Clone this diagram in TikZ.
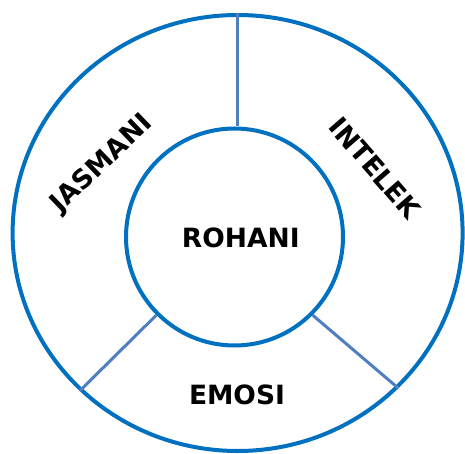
\documentclass[tikz,border=0pt]{standalone}
\usepackage{fontspec}
\setmainfont{DejaVu Sans}
\usetikzlibrary{shapes.geometric}
\definecolor{Ring}{HTML}{0070C0}
\definecolor{Spoke}{HTML}{4F7FBF}

\begin{document}
\begin{tikzpicture}[x=1pt,y=-1pt,
    ring/.style={draw=Ring,line width=4pt,inner sep=0pt},
    spoke/.style={draw=Spoke,line width=3pt},
    word/.style={font=\fontsize{26.5}{30}\selectfont\bfseries,inner sep=0pt}]
    \useasboundingbox (0,0) rectangle (465,454);
    \node[ring,ellipse,minimum width=450pt,minimum height=436pt] (outer) at (237.6,233) {};
    \node[ring,circle,minimum size=217pt,fill=white] (inner) at (234.5,237) {};
    \draw[spoke] (outer.north) -- (outer.north |- inner.north);
    \foreach \a/\b in {-135/-135,-45/-44}\draw[spoke] (inner.\a) -- (outer.\b);
    \node[word] (rohani) at (240.8,238) {ROHANI};
    \node[word] (emosi) at (237,395) {EMOSI};
    \node[word,rotate=44] (jasmani) at (102,164) {JASMANI};
    \node[word,rotate=-49] (intelek) at (375,168) {INTELEK};
\end{tikzpicture}
\end{document}
